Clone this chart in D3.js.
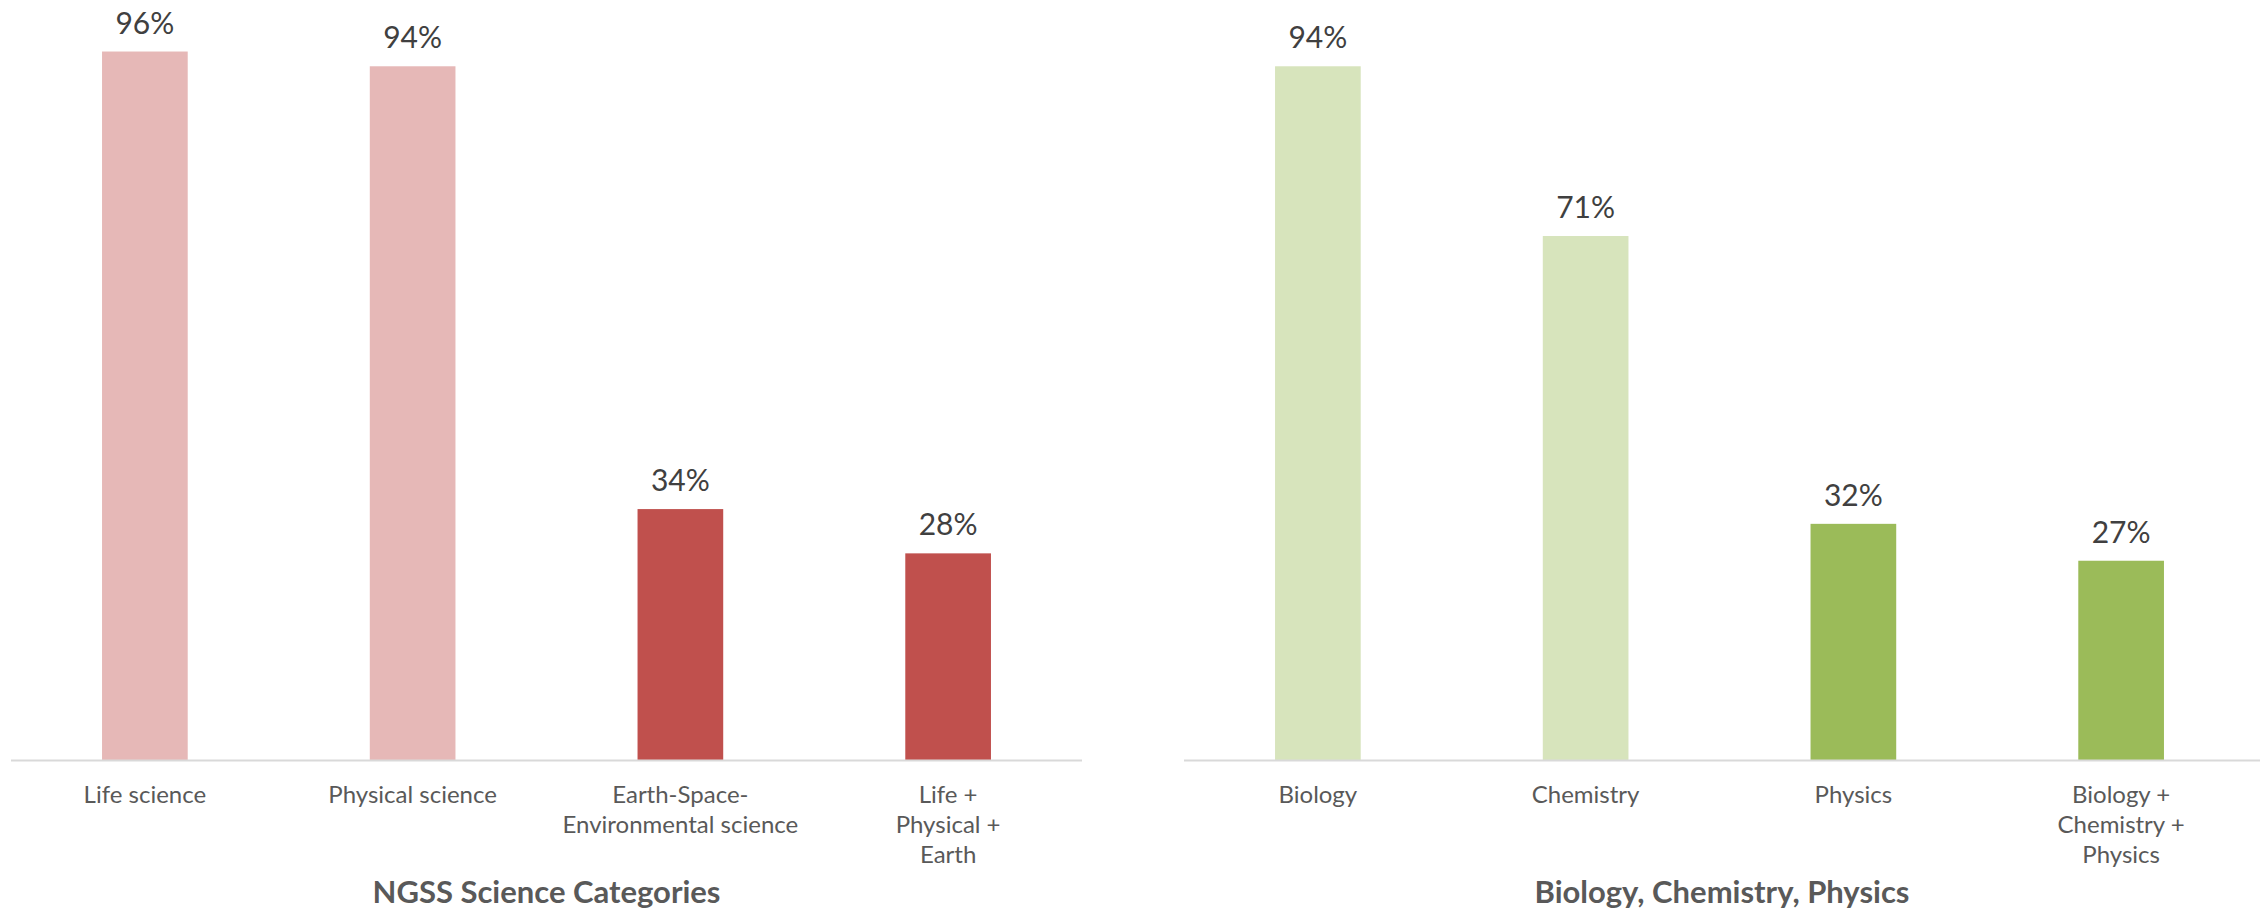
<!DOCTYPE html>
<html>
<head>
<meta charset="utf-8">
<script src="https://cdn.jsdelivr.net/npm/d3@7"></script>
<style>
  html, body { margin: 0; padding: 0; background: #ffffff; }
  svg { display: block; }
</style>
</head>
<body>
<svg id="chart" width="2260" height="911"></svg>
<script>
// Share of schools by science category
const ngssCategories = ["Life science", "Physical science", "Earth-Space-\nEnvironmental science", "Life +\nPhysical +\nEarth"];
const ngssValues = [96, 94, 34, 28];
const ngssColors = ["#E6B8B7", "#E6B8B7", "#C0504D", "#C0504D"];
const ngssTitle = "NGSS Science Categories";

const bcpCategories = ["Biology", "Chemistry", "Physics", "Biology +\nChemistry +\nPhysics"];
const bcpValues = [94, 71, 32, 27];
const bcpColors = ["#D7E4BC", "#D7E4BC", "#9BBB59", "#9BBB59"];
const bcpTitle = "Biology, Chemistry, Physics";

const svg = d3.select("#chart");
const baseY = 760;
const y = d3.scaleLinear().domain([0, 100]).range([baseY, 22]);

function panel(categories, values, colors, title, x0, x1, lineEnd) {
  const g = svg.append("g");
  const x = d3.scaleBand()
    .domain(categories)
    .range([x0, x1])
    .paddingInner(0.68)
    .paddingOuter(0.34);

  // bars
  g.selectAll("rect.bar")
    .data(categories)
    .join("rect")
    .attr("class", "bar")
    .attr("x", d => x(d))
    .attr("width", x.bandwidth())
    .attr("y", (d, i) => y(values[i]))
    .attr("height", (d, i) => baseY - y(values[i]))
    .attr("fill", (d, i) => colors[i]);

  // value labels
  g.selectAll("text.val")
    .data(categories)
    .join("text")
    .attr("class", "val")
    .attr("x", d => x(d) + x.bandwidth() / 2)
    .attr("y", (d, i) => y(values[i]) - 18)
    .attr("text-anchor", "middle")
    .attr("font-family", "Lato, sans-serif")
    .attr("font-size", 30)
    .attr("fill", "#404040")
    .text((d, i) => values[i] + "%");

  // baseline axis
  const axis = d3.axisBottom(x).tickSize(0).tickFormat("");
  const ag = g.append("g").attr("transform", `translate(0,${baseY})`).call(axis);
  ag.select(".domain").remove();
  g.append("line")
    .attr("x1", x0).attr("x2", lineEnd)
    .attr("y1", baseY + 0.5).attr("y2", baseY + 0.5)
    .attr("stroke", "#D9D9D9")
    .attr("stroke-width", 2);

  // category labels (wrapped)
  const lab = g.selectAll("text.cat")
    .data(categories)
    .join("text")
    .attr("class", "cat")
    .attr("text-anchor", "middle")
    .attr("font-family", "Lato, sans-serif")
    .attr("font-size", 24)
    .attr("fill", "#595959");
  lab.each(function(d) {
    const t = d3.select(this);
    d.split("\n").forEach((line, k) => {
      t.append("tspan")
        .attr("x", x(d) + x.bandwidth() / 2)
        .attr("y", 803 + k * 30)
        .text(line);
    });
  });

  // panel title
  g.append("text")
    .attr("x", (x0 + lineEnd) / 2)
    .attr("y", 903)
    .attr("text-anchor", "middle")
    .attr("font-family", "Lato, sans-serif")
    .attr("font-weight", "bold")
    .attr("font-size", 31)
    .attr("fill", "#595959")
    .text(title);
}

panel(ngssCategories, ngssValues, ngssColors, ngssTitle, 11, 1082, 1082);
panel(bcpCategories, bcpValues, bcpColors, bcpTitle, 1184, 2255, 2260);
</script>
</body>
</html>
